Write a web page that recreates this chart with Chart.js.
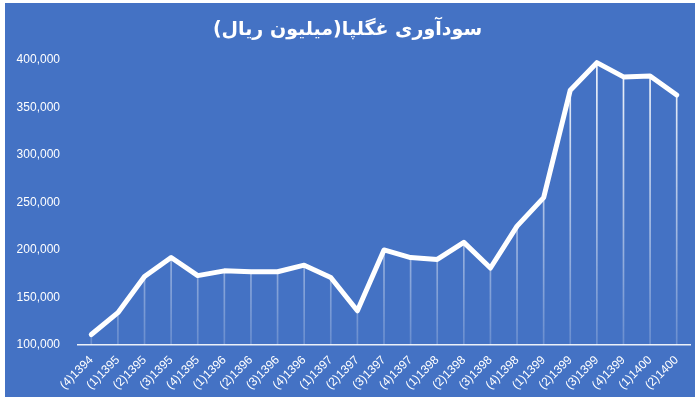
<!DOCTYPE html>
<html>
<head>
<meta charset="utf-8">
<script src="https://cdn.jsdelivr.net/npm/chart.js@4"></script>
<style>
  html, body { margin: 0; padding: 0; background: #ffffff; }
  #wrap {
    position: absolute; left: 5px; top: 3px;
    width: 690px; height: 394px;
    background: #4472c4;
  }
</style>
</head>
<body>
<div id="wrap"><canvas id="profitChart" width="690" height="394"></canvas></div>
<script>
// Quarterly profit of the company (million rials)
const quarters = [
  '(4)1394', '(1)1395', '(2)1395', '(3)1395', '(4)1395',
  '(1)1396', '(2)1396', '(3)1396', '(4)1396',
  '(1)1397', '(2)1397', '(3)1397', '(4)1397',
  '(1)1398', '(2)1398', '(3)1398', '(4)1398',
  '(1)1399', '(2)1399', '(3)1399', '(4)1399',
  '(1)1400', '(2)1400'
];
const profit = [
  111000, 134000, 172000, 192000, 173000,
  178000, 177000, 177000, 184000,
  171000, 136000, 200000, 192000,
  190000, 208000, 181000, 225000,
  255000, 368000, 397000, 382000,
  383000, 363000
];
const yTicks = [100000, 150000, 200000, 250000, 300000, 350000, 400000];

const ctx = document.getElementById('profitChart');
new Chart(ctx, {
  type: 'bar',
  data: {
    labels: quarters,
    datasets: [{
      type: 'line',
      data: profit,
      borderColor: '#ffffff',
      borderWidth: 5,
      borderJoinStyle: 'round',
      borderCapStyle: 'round',
      tension: 0,
      pointRadius: 0,
      order: 0
    }, {
      // drop lines from each point down to the axis
      type: 'bar',
      data: profit,
      barThickness: 1,
      backgroundColor: function(context) {
        const area = context.chart.chartArea;
        if (!area) return 'rgba(255,255,255,0.7)';
        const g = context.chart.ctx.createLinearGradient(0, area.top, 0, area.bottom);
        g.addColorStop(0, 'rgba(255,255,255,0.95)');
        g.addColorStop(1, 'rgba(255,255,255,0.2)');
        return g;
      },
      order: 1
    }]
  },
  options: {
    responsive: false,
    animation: false,
    layout: {
      padding: { left: 0, right: 5, top: 6, bottom: 0 }
    },
    plugins: {
      legend: { display: false },
      tooltip: { enabled: false },
      title: {
        display: true,
        text: 'سودآوری غگلپا(میلیون ریال)',
        color: '#ffffff',
        font: { family: 'DejaVu Sans', size: 19, weight: 'bold' },
        padding: { top: 10, bottom: 18 }
      }
    },
    scales: {
      x: {
        grid: { display: false, drawTicks: false },
        border: { color: 'rgba(255,255,255,0.9)', width: 1.5 },
        afterFit: function(axis) { axis.height = 52; },
        ticks: {
          color: '#ffffff',
          font: { family: 'Liberation Sans', size: 12 },
          maxRotation: 45,
          minRotation: 45,
          autoSkip: false,
          padding: 8
        }
      },
      y: {
        min: 100000,
        max: 400000,
        grid: { display: false, drawTicks: false },
        border: { display: false },
        afterFit: function(axis) { axis.width = 73; },
        afterBuildTicks: function(axis) {
          axis.ticks = yTicks.map(v => ({ value: v }));
        },
        ticks: {
          color: '#ffffff',
          font: { family: 'Liberation Sans', size: 12 },
          padding: 18,
          callback: function(value) {
            return value.toLocaleString('en-US');
          }
        }
      }
    }
  }
});
</script>
</body>
</html>
